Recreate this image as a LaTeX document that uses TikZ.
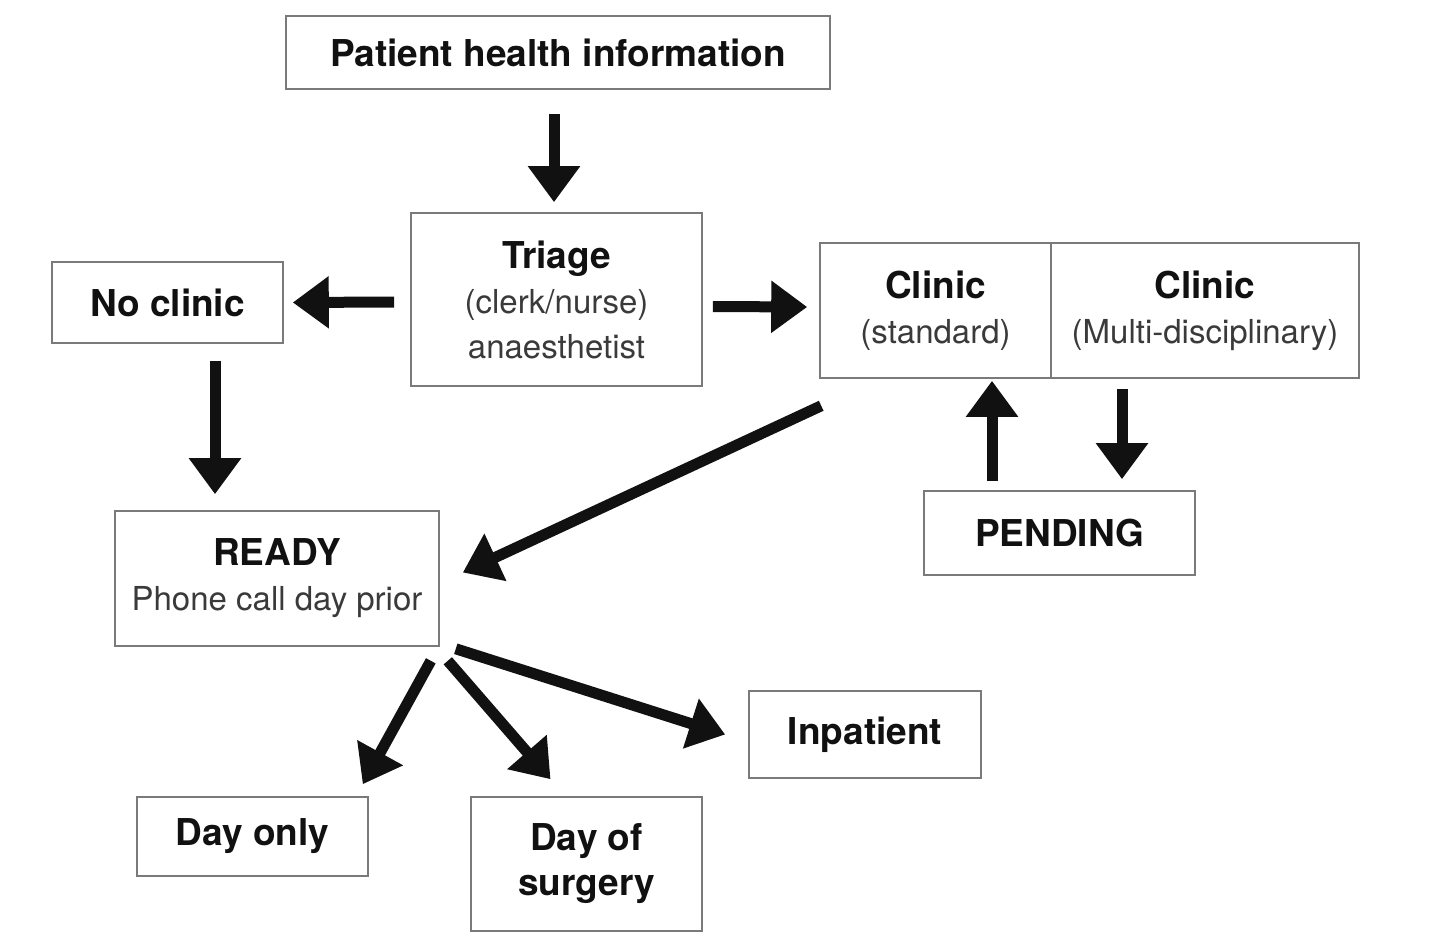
\documentclass[tikz,border=0pt]{standalone}
\usepackage{fontspec}
\setmainfont{TeX Gyre Heros}
\usetikzlibrary{arrows.meta,calc}
\definecolor{boxgray}{HTML}{7A7A7A}
\definecolor{lightink}{HTML}{3A3A3A}
\definecolor{darkink}{HTML}{111111}
\newcommand\hd{\fontsize{37}{45}\selectfont\bfseries\color{darkink}}
\newcommand\lt{\fontsize{33}{45}\selectfont\mdseries\color{lightink}}
\tikzset{
  box/.style={draw=boxgray, line width=1.6pt, inner sep=0pt, align=center,
              font=\fontsize{37}{45}\selectfont},
  bigarrow/.style={line width=11pt, draw=darkink,
              -{Triangle[length=36pt,width=50pt]}}
}
\begin{document}
\begin{tikzpicture}[x=1pt,y=-1pt]
  \fill[white] (0,0) rectangle (1445,947);
  \useasboundingbox (0,0) rectangle (1445,947);

  % boxes
  \node[box, minimum width=544pt, minimum height=73pt]  (patient)   at (558,52.5)   {\hd Patient health information};
  \node[box, minimum width=291pt, minimum height=173pt] (triage)    at (556.5,299.5) {\hd Triage\\\lt (clerk/nurse)\\\lt anaesthetist};
  \node[box, minimum width=231pt, minimum height=81pt]  (noclinic)  at (167.5,302.5) {\hd No clinic};
  \node[box, minimum width=231pt, minimum height=135pt] (clinicstd) at (935.5,310.5) {\hd Clinic\\\lt (standard)};
  \node[box, minimum width=308pt, minimum height=135pt] (clinicmd)  at (1205,310.5)  {\hd Clinic\\\lt (Multi-disciplinary)};
  \node[box, minimum width=271pt, minimum height=84pt]  (pending)   at (1059.5,533)  {\hd PENDING};
  \node[box, minimum width=324pt, minimum height=135pt] (ready)     at (277,578.5)   {\hd READY\\\lt Phone call day prior};
  \node[box, minimum width=232pt, minimum height=87pt]  (inpatient) at (865,734.5)   {\hd Inpatient};
  \node[box, minimum width=231pt, minimum height=79pt]  (dayonly)   at (252.5,836.5) {\hd Day only};
  \node[box, minimum width=231pt, minimum height=134pt] (dos)       at (586.5,864)   {\hd Day of\\\hd surgery};

  % connectors
  \draw[bigarrow] ($(patient.south)+(-4,24)$) -- ($(triage.north)+(-2.5,-10)$);
  \draw[bigarrow] ($(triage.west)+(-16,2.5)$) -- ($(noclinic.east)+(9,0)$);
  \draw[bigarrow] ($(triage.east)+(10,7)$) -- ($(clinicstd.west)+(-12,-3.5)$);
  \draw[bigarrow] ($(noclinic.south)+(47.5,17)$) -- ($(ready.north)+(-62,-16)$);
  \draw[bigarrow] ($(clinicstd.south west)+(2,27)$) -- ($(ready.east)+(23,-6)$);
  \draw[bigarrow] ($(pending.north)+(-67.5,-9)$) -- ($(clinicstd.south)+(56.5,2)$);
  \draw[bigarrow] ($(clinicmd.south)+(-83,10)$) -- ($(pending.north)+(62.5,-11)$);
  \draw[bigarrow] ($(ready.south east)+(-9,14)$) -- ($(dayonly.north east)+(-6,-12)$);
  \draw[bigarrow] ($(ready.south east)+(8,14)$) -- ($(dos.north)+(-36,-17)$);
  \draw[bigarrow] ($(ready.south east)+(16,2)$) -- ($(inpatient.west)+(-23,0)$);
\end{tikzpicture}
\end{document}
